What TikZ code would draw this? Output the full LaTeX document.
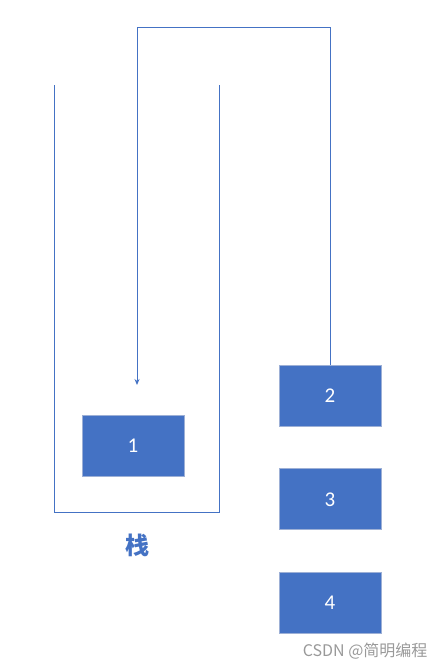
\documentclass[tikz,border=0pt]{standalone}
\usepackage{fontspec}
\setmainfont{Carlito}
\newfontfamily\cjk{Noto Sans CJK SC}
\usetikzlibrary{arrows.meta,positioning}
\definecolor{boxblue}{HTML}{4472C4}
\definecolor{boxedge}{HTML}{9DB0D6}
\begin{document}
\begin{tikzpicture}[x=1pt,y=-1pt,
  item/.style={draw=boxedge,fill=boxblue,text=white,line width=0.8pt,
    minimum width=102pt,minimum height=61pt,inner sep=0pt,
    font=\fontsize{21}{24}\selectfont},
  wall/.style={draw=boxblue,line width=1pt}]
\useasboundingbox (0,0) rectangle (444,669);
% stack
\draw[wall] (54,85) -- (54,512) -- (219,512) -- (219,85);
\node[text=boxblue,font=\cjk\bfseries\fontsize{24}{28}\selectfont] (stacklabel) at (137,545) {栈};
% elements
\node[item] (e1) at (133,445.5) {1};
\node[item] (e2) at (330,395.5) {2};
\node[item,below=42pt of e2] (e3) {3};
\node[item,below=42pt of e3] (e4) {4};
% push
\coordinate (top) at (330,28);
\coordinate (drop) at (137,385);
\draw[wall,-{Stealth[length=6pt,width=5pt]}] (e2.north) -- (top) -| (drop);
% watermark
\node[text=gray!80,font=\cjk\fontsize{16}{18}\selectfont,anchor=east] (mark) at (431,651) {CSDN @简明编程};
\end{tikzpicture}
\end{document}
